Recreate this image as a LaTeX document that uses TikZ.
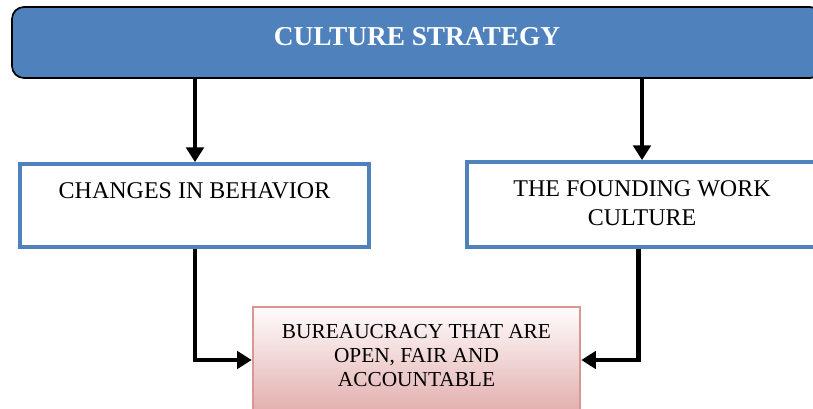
\documentclass[tikz,border=0pt]{standalone}
\usepackage{fontspec}
\setmainfont{Liberation Serif}
\usetikzlibrary{arrows.meta}
\definecolor{accblue}{HTML}{4F81BD}
\definecolor{pinkborder}{HTML}{D99694}
\definecolor{pinkbottom}{HTML}{E2AFAE}
\definecolor{pinktop}{HTML}{FFFCFC}
\tikzset{
  headbox/.style={draw=black, line width=1.3pt, fill=accblue, rounded corners=9pt, inner sep=0pt},
  bluebox/.style={draw=accblue, line width=2.8pt, fill=white, inner sep=0pt},
  pinkbox/.style={draw=pinkborder, line width=1.9pt, top color=pinktop, bottom color=pinkbottom, inner sep=0pt},
  boxtext/.style={font=\fontsize{18}{21.75}\selectfont, align=center, inner sep=0pt},
  smalltext/.style={font=\fontsize{16}{18}\selectfont, align=center, inner sep=0pt},
  flow/.style={line width=3.6pt, -{Triangle[width=13pt,length=11pt]}},
}
\begin{document}
\begin{tikzpicture}[x=0.75pt,y=-0.75pt]
\useasboundingbox (0,0) rectangle (813,409);
\clip (0,0) rectangle (813,409);
% boxes
\node[headbox, minimum width=810*0.75pt, minimum height=71*0.75pt] (top) at (417,42.5) {};
\node[font=\fontsize{20.5}{23}\selectfont\bfseries, text=white, inner sep=0pt] (toptext) at (417,37) {CULTURE STRATEGY};
\node[bluebox, minimum width=349*0.75pt, minimum height=83*0.75pt] (lbox) at (194.5,205.5) {};
\node[boxtext] (ltext) at (194.5,191) {CHANGES IN BEHAVIOR};
\node[bluebox, minimum width=363*0.75pt, minimum height=85*0.75pt] (rbox) at (648.5,204.5) {};
\node[boxtext] (rtext) at (642,203) {THE FOUNDING WORK\\CULTURE};
\node[pinkbox, minimum width=327*0.75pt, minimum height=105*0.75pt] (bbox) at (416.5,359.5) {};
\node[smalltext] (btext) at (416.5,356) {BUREAUCRACY THAT ARE\\OPEN, FAIR AND\\ACCOUNTABLE};
% coordinates
\coordinate (tl) at (195,78);
\coordinate (tr) at (642,78);
\coordinate (ls) at (195,247);
\coordinate (rs) at (638.5,247);
\coordinate (bl) at (253,360);
\coordinate (br) at (580,360);
% connectors
\draw[flow] (top.south -| tl) -- (lbox.north -| tl);
\draw[flow] (top.south -| tr) -- (rbox.north -| tr);
\draw[flow] (lbox.south -| ls) |- (bbox.west |- bl);
\draw[flow] (rbox.south -| rs) |- (bbox.east |- br);
\end{tikzpicture}
\end{document}
